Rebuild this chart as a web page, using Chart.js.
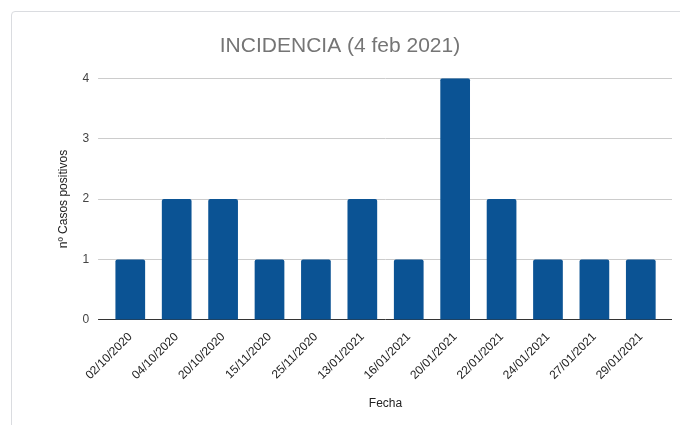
<!DOCTYPE html>
<html>
<head>
<meta charset="utf-8">
<script src="https://cdn.jsdelivr.net/npm/chart.js@4"></script>
<style>
  body { margin: 0; background: #fff; }
  #frame { position: absolute; left: 11px; top: 11px; width: 700px; height: 440px;
           border: 1px solid #dadce0; border-radius: 4px; }
  #wrap { position: absolute; left: 0; top: 0; width: 680px; height: 425px; }
</style>
</head>
<body>
<div id="frame"></div>
<div id="wrap"><canvas id="incidencia"></canvas></div>
<script>
const fechas = ['02/10/2020', '04/10/2020', '20/10/2020', '15/11/2020', '25/11/2020', '13/01/2021',
  '16/01/2021', '20/01/2021', '22/01/2021', '24/01/2021', '27/01/2021', '29/01/2021']
const casos = [1, 2, 2, 1, 1, 2, 1, 4, 2, 1, 1, 1]
const yTicks = [0, 1, 2, 3, 4]

Chart.defaults.font.family = '"Liberation Sans", Arial, sans-serif'

const gridColor = (c) => c.tick && c.tick.value === 0 ? '#333' : '#ccc'

const ctx = document.getElementById('incidencia')
new Chart(ctx, {
  type: 'bar',
  data: {
    labels: fechas,
    datasets: [{
      label: 'nº Casos positivos',
      data: casos,
      backgroundColor: '#0b5394',
      borderRadius: { topLeft: 2, topRight: 2 },
      borderSkipped: 'bottom',
      categoryPercentage: 0.8,
      barPercentage: 0.8
    }]
  },
  options: {
    responsive: true,
    maintainAspectRatio: false,
    animation: false,
    layout: { padding: { left: 8, right: 8, top: 34, bottom: 10 } },
    plugins: {
      legend: { display: false },
      tooltip: { enabled: false },
      title: {
        display: true,
        text: 'INCIDENCIA (4 feb 2021)',
        color: '#757575',
        font: { size: 21, weight: 'normal' },
        padding: { top: 0, bottom: 19 }
      }
    },
    scales: {
      x: {
        grid: { display: false },
        border: { display: false },
        ticks: { color: '#222', font: { size: 12 }, minRotation: 45, maxRotation: 45, padding: 2 },
        title: { display: true, text: 'Fecha', color: '#222', font: { size: 12 }, padding: { top: 12 } }
      },
      y: {
        min: 0,
        max: 4,
        afterBuildTicks: (axis) => { axis.ticks = yTicks.map(v => ({ value: v })) },
        grid: { drawTicks: true, tickLength: 9, color: gridColor },
        border: { display: false },
        ticks: { color: '#444', font: { size: 12 }, padding: 9 },
        title: { display: true, text: 'nº Casos positivos', color: '#222', font: { size: 12 }, padding: { top: 48, bottom: 3 } }
      },
      // right side: only extends the grid lines past the last bar
      y2: {
        display: true,
        position: 'right',
        min: 0,
        max: 4,
        afterBuildTicks: (axis) => { axis.ticks = yTicks.map(v => ({ value: v })) },
        grid: { drawOnChartArea: false, drawTicks: true, tickLength: 8, color: gridColor },
        border: { display: false },
        ticks: { display: false }
      }
    }
  }
})
</script>
</body>
</html>
